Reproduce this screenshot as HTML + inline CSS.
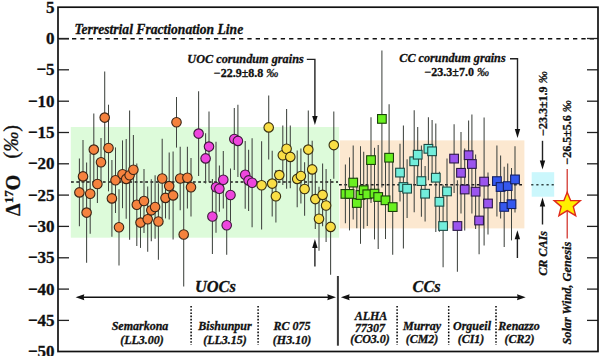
<!DOCTYPE html>
<html><head><meta charset="utf-8"><style>
html,body{margin:0;padding:0;background:#fff;width:600px;height:356px;overflow:hidden}
svg{display:block}
text{font-family:"Liberation Serif",serif;stroke:#111;stroke-width:0.3px}
</style></head><body>
<svg width="600" height="356" viewBox="0 0 600 356">
<!-- background regions -->
<rect x="70.8" y="127" width="268.3" height="110.7" fill="#DDFBDA"/>
<rect x="339.8" y="140.4" width="184.6" height="88" fill="#FCE8D0"/>
<rect x="531.7" y="172.2" width="22.5" height="24.5" fill="#CBF7FC"/>
<!-- mean lines -->
<g stroke="#1a1a1a" stroke-width="1.5" stroke-dasharray="2.8 2.5">
<line x1="71" y1="182" x2="338" y2="182"/>
<line x1="339" y1="184.7" x2="524.5" y2="184.7"/>
</g>
<!-- error bars -->
<g stroke="#404540" stroke-width="1.05">
<line x1="79.4" y1="158.6" x2="79.4" y2="226.2"/><line x1="83.0" y1="140.0" x2="83.0" y2="212.8"/><line x1="86.6" y1="162.4" x2="86.6" y2="262.8"/><line x1="90.2" y1="153.6" x2="90.2" y2="233.8"/><line x1="93.8" y1="113.6" x2="93.8" y2="185.6"/><line x1="97.4" y1="165.0" x2="97.4" y2="203.0"/><line x1="101" y1="138.0" x2="101" y2="186.6"/><line x1="104.7" y1="71.6" x2="104.7" y2="163.6"/><line x1="108.5" y1="104.7" x2="108.5" y2="191.3"/><line x1="111.9" y1="160.0" x2="111.9" y2="236.8"/><line x1="115.5" y1="147.4" x2="115.5" y2="213.0"/><line x1="119" y1="189.2" x2="119" y2="265.4"/><line x1="122.5" y1="140.4" x2="122.5" y2="208.2"/><line x1="126.2" y1="139.0" x2="126.2" y2="218.8"/><line x1="129.6" y1="110.6" x2="129.6" y2="239.8"/><line x1="133.4" y1="135.0" x2="133.4" y2="204.4"/><line x1="136.8" y1="163.6" x2="136.8" y2="246.0"/><line x1="140.5" y1="197.3" x2="140.5" y2="247.9"/><line x1="144" y1="169.0" x2="144" y2="233.0"/><line x1="147.7" y1="186.6" x2="147.7" y2="251.8"/><line x1="151.3" y1="179.3" x2="151.3" y2="241.3"/><line x1="155.1" y1="175.3" x2="155.1" y2="238.7"/><line x1="158.4" y1="183.3" x2="158.4" y2="259.7"/><line x1="162.2" y1="138.7" x2="162.2" y2="218.3"/><line x1="165.5" y1="177.4" x2="165.5" y2="218.4"/><line x1="169.2" y1="152.6" x2="169.2" y2="219.6"/><line x1="173.1" y1="151.4" x2="173.1" y2="239.4"/><line x1="176.5" y1="97.0" x2="176.5" y2="147.6"/><line x1="180.2" y1="146.8" x2="180.2" y2="210.2"/><line x1="183.7" y1="182.6" x2="183.7" y2="286.4"/><line x1="187.4" y1="146.8" x2="187.4" y2="208.6"/><line x1="191" y1="158.0" x2="191" y2="216.6"/><line x1="198.6" y1="91.2" x2="198.6" y2="176.0"/><line x1="205.6" y1="133.3" x2="205.6" y2="183.5"/><line x1="209" y1="111.4" x2="209" y2="181.8"/><line x1="212.4" y1="179.0" x2="212.4" y2="254.0"/><line x1="216" y1="141.7" x2="216" y2="232.7"/><line x1="219.4" y1="165.6" x2="219.4" y2="211.8"/><line x1="223.3" y1="151.0" x2="223.3" y2="208.4"/><line x1="226.7" y1="195.7" x2="226.7" y2="254.7"/><line x1="230.5" y1="168.5" x2="230.5" y2="221.5"/><line x1="234.3" y1="108.0" x2="234.3" y2="170.0"/><line x1="237.9" y1="104.7" x2="237.9" y2="177.1"/><line x1="245.2" y1="140.9" x2="245.2" y2="208.7"/><line x1="248.6" y1="149.8" x2="248.6" y2="211.0"/><line x1="252.1" y1="138.3" x2="252.1" y2="227.3"/><line x1="261.6" y1="141.2" x2="261.6" y2="229.4"/><line x1="268.7" y1="95.4" x2="268.7" y2="159.4"/><line x1="272.2" y1="150.8" x2="272.2" y2="216.4"/><line x1="275.9" y1="170.0" x2="275.9" y2="222.6"/><line x1="279.3" y1="171.1" x2="279.3" y2="179.1"/><line x1="282.8" y1="125.5" x2="282.8" y2="184.9"/><line x1="286.6" y1="108.9" x2="286.6" y2="188.7"/><line x1="290.3" y1="125.5" x2="290.3" y2="188.3"/><line x1="297.2" y1="150.5" x2="297.2" y2="207.3"/><line x1="300.9" y1="148.4" x2="300.9" y2="203.6"/><line x1="304.6" y1="162.3" x2="304.6" y2="215.7"/><line x1="308.3" y1="110.6" x2="308.3" y2="188.6"/><line x1="312.2" y1="140.8" x2="312.2" y2="198.0"/><line x1="315.3" y1="169.1" x2="315.3" y2="229.1"/><line x1="319.0" y1="186.8" x2="319.0" y2="250.8"/><line x1="322.6" y1="163.6" x2="322.6" y2="226.2"/><line x1="326.1" y1="169.0" x2="326.1" y2="242.0"/><line x1="330.6" y1="179.1" x2="330.6" y2="274.7"/><line x1="333.8" y1="111.4" x2="333.8" y2="178.8"/><line x1="345.4" y1="164.6" x2="345.4" y2="223.2"/><line x1="349.5" y1="157.4" x2="349.5" y2="230.4"/><line x1="353.2" y1="145.6" x2="353.2" y2="219.6"/><line x1="356.8" y1="177.8" x2="356.8" y2="228.2"/><line x1="360.5" y1="146.2" x2="360.5" y2="243.8"/><line x1="363.7" y1="151.7" x2="363.7" y2="228.7"/><line x1="367.3" y1="162.6" x2="367.3" y2="226.0"/><line x1="371" y1="117.3" x2="371" y2="202.9"/><line x1="374.5" y1="147.8" x2="374.5" y2="239.4"/><line x1="378.2" y1="145.1" x2="378.2" y2="248.9"/><line x1="381.9" y1="50.4" x2="381.9" y2="187.4"/><line x1="385.5" y1="161.6" x2="385.5" y2="239.0"/><line x1="389.1" y1="104.2" x2="389.1" y2="211.2"/><line x1="392.7" y1="159.5" x2="392.7" y2="254.7"/><line x1="400" y1="143.7" x2="400" y2="201.5"/><line x1="403.4" y1="125.5" x2="403.4" y2="248.5"/><line x1="407.1" y1="159.3" x2="407.1" y2="218.1"/><line x1="414.2" y1="110.3" x2="414.2" y2="212.3"/><line x1="417.7" y1="126.9" x2="417.7" y2="182.5"/><line x1="421.4" y1="145.5" x2="421.4" y2="216.7"/><line x1="425.1" y1="165.9" x2="425.1" y2="221.5"/><line x1="428.4" y1="117.3" x2="428.4" y2="180.3"/><line x1="432.1" y1="120.1" x2="432.1" y2="182.5"/><line x1="435.8" y1="123.4" x2="435.8" y2="232.0"/><line x1="439.4" y1="171.8" x2="439.4" y2="231.8"/><line x1="443.1" y1="184.7" x2="443.1" y2="267.3"/><line x1="447" y1="158.4" x2="447" y2="224.4"/><line x1="454.1" y1="124.3" x2="454.1" y2="192.9"/><line x1="457.4" y1="180.2" x2="457.4" y2="271.8"/><line x1="461" y1="132.1" x2="461" y2="213.5"/><line x1="464.7" y1="148.5" x2="464.7" y2="230.5"/><line x1="468.6" y1="120.5" x2="468.6" y2="189.9"/><line x1="471.9" y1="114.6" x2="471.9" y2="213.4"/><line x1="475.6" y1="154.4" x2="475.6" y2="229.0"/><line x1="479.1" y1="186.8" x2="479.1" y2="254.2"/><line x1="484.1" y1="117.6" x2="484.1" y2="245.6"/><line x1="488" y1="172.5" x2="488" y2="234.5"/><line x1="496.9" y1="145.6" x2="496.9" y2="216.6"/><line x1="500.6" y1="155.6" x2="500.6" y2="218.4"/><line x1="504.2" y1="166.7" x2="504.2" y2="247.1"/><line x1="507.7" y1="163.6" x2="507.7" y2="208.6"/><line x1="511.5" y1="168.0" x2="511.5" y2="240.4"/><line x1="515" y1="146.3" x2="515" y2="212.5"/>
</g>
<g stroke-width="1.1">
<circle cx="79.4" cy="192.4" r="4.75" fill="#F5823E" stroke="#3a2415"/><circle cx="83.0" cy="176.4" r="4.75" fill="#F5823E" stroke="#3a2415"/><circle cx="86.6" cy="212.6" r="4.75" fill="#F5823E" stroke="#3a2415"/><circle cx="90.2" cy="193.7" r="4.75" fill="#F5823E" stroke="#3a2415"/><circle cx="93.8" cy="149.6" r="4.75" fill="#F5823E" stroke="#3a2415"/><circle cx="97.4" cy="184" r="4.75" fill="#F5823E" stroke="#3a2415"/><circle cx="101" cy="162.3" r="4.75" fill="#F5823E" stroke="#3a2415"/><circle cx="104.7" cy="117.6" r="4.75" fill="#F5823E" stroke="#3a2415"/><circle cx="108.5" cy="148" r="4.75" fill="#F5823E" stroke="#3a2415"/><circle cx="111.9" cy="198.4" r="4.75" fill="#F5823E" stroke="#3a2415"/><circle cx="115.5" cy="180.2" r="4.75" fill="#F5823E" stroke="#3a2415"/><circle cx="119" cy="227.3" r="4.75" fill="#F5823E" stroke="#3a2415"/><circle cx="122.5" cy="174.3" r="4.75" fill="#F5823E" stroke="#3a2415"/><circle cx="126.2" cy="178.9" r="4.75" fill="#F5823E" stroke="#3a2415"/><circle cx="129.6" cy="175.2" r="4.75" fill="#F5823E" stroke="#3a2415"/><circle cx="133.4" cy="169.7" r="4.75" fill="#F5823E" stroke="#3a2415"/><circle cx="136.8" cy="204.8" r="4.75" fill="#F5823E" stroke="#3a2415"/><circle cx="140.5" cy="222.6" r="4.75" fill="#F5823E" stroke="#3a2415"/><circle cx="144" cy="201" r="4.75" fill="#F5823E" stroke="#3a2415"/><circle cx="147.7" cy="219.2" r="4.75" fill="#F5823E" stroke="#3a2415"/><circle cx="151.3" cy="210.3" r="4.75" fill="#F5823E" stroke="#3a2415"/><circle cx="155.1" cy="207" r="4.75" fill="#F5823E" stroke="#3a2415"/><circle cx="158.4" cy="221.5" r="4.75" fill="#F5823E" stroke="#3a2415"/><circle cx="162.2" cy="178.5" r="4.75" fill="#F5823E" stroke="#3a2415"/><circle cx="165.5" cy="197.9" r="4.75" fill="#F5823E" stroke="#3a2415"/><circle cx="169.2" cy="186.1" r="4.75" fill="#F5823E" stroke="#3a2415"/><circle cx="173.1" cy="195.4" r="4.75" fill="#F5823E" stroke="#3a2415"/><circle cx="176.5" cy="122.3" r="4.75" fill="#F5823E" stroke="#3a2415"/><circle cx="180.2" cy="178.5" r="4.75" fill="#F5823E" stroke="#3a2415"/><circle cx="183.7" cy="234.5" r="4.75" fill="#F5823E" stroke="#3a2415"/><circle cx="187.4" cy="177.7" r="4.75" fill="#F5823E" stroke="#3a2415"/><circle cx="191" cy="187.3" r="4.75" fill="#F5823E" stroke="#3a2415"/><circle cx="198.6" cy="133.6" r="4.75" fill="#EE45DD" stroke="#3a1a38"/><circle cx="205.6" cy="158.4" r="4.75" fill="#EE45DD" stroke="#3a1a38"/><circle cx="209" cy="146.6" r="4.75" fill="#EE45DD" stroke="#3a1a38"/><circle cx="212.4" cy="216.5" r="4.75" fill="#EE45DD" stroke="#3a1a38"/><circle cx="216" cy="187.2" r="4.75" fill="#EE45DD" stroke="#3a1a38"/><circle cx="219.4" cy="188.7" r="4.75" fill="#EE45DD" stroke="#3a1a38"/><circle cx="223.3" cy="179.7" r="4.75" fill="#EE45DD" stroke="#3a1a38"/><circle cx="226.7" cy="225.2" r="4.75" fill="#EE45DD" stroke="#3a1a38"/><circle cx="230.5" cy="195" r="4.75" fill="#EE45DD" stroke="#3a1a38"/><circle cx="234.3" cy="139" r="4.75" fill="#EE45DD" stroke="#3a1a38"/><circle cx="237.9" cy="140.9" r="4.75" fill="#EE45DD" stroke="#3a1a38"/><circle cx="245.2" cy="174.8" r="4.75" fill="#EE45DD" stroke="#3a1a38"/><circle cx="248.6" cy="180.4" r="4.75" fill="#EE45DD" stroke="#3a1a38"/><circle cx="252.1" cy="182.8" r="4.75" fill="#EE45DD" stroke="#3a1a38"/><circle cx="261.6" cy="185.3" r="4.75" fill="#F9DE45" stroke="#3a3010"/><circle cx="268.7" cy="127.4" r="4.75" fill="#F9DE45" stroke="#3a3010"/><circle cx="272.2" cy="183.6" r="4.75" fill="#F9DE45" stroke="#3a3010"/><circle cx="275.9" cy="196.3" r="4.75" fill="#F9DE45" stroke="#3a3010"/><circle cx="279.3" cy="175.1" r="4.75" fill="#F9DE45" stroke="#3a3010"/><circle cx="282.8" cy="155.2" r="4.75" fill="#F9DE45" stroke="#3a3010"/><circle cx="286.6" cy="148.8" r="4.75" fill="#F9DE45" stroke="#3a3010"/><circle cx="290.3" cy="156.9" r="4.75" fill="#F9DE45" stroke="#3a3010"/><circle cx="297.2" cy="178.9" r="4.75" fill="#F9DE45" stroke="#3a3010"/><circle cx="300.9" cy="176" r="4.75" fill="#F9DE45" stroke="#3a3010"/><circle cx="304.6" cy="189" r="4.75" fill="#F9DE45" stroke="#3a3010"/><circle cx="308.3" cy="149.6" r="4.75" fill="#F9DE45" stroke="#3a3010"/><circle cx="312.2" cy="169.4" r="4.75" fill="#F9DE45" stroke="#3a3010"/><circle cx="315.3" cy="199.1" r="4.75" fill="#F9DE45" stroke="#3a3010"/><circle cx="319.0" cy="218.8" r="4.75" fill="#F9DE45" stroke="#3a3010"/><circle cx="322.6" cy="194.9" r="4.75" fill="#F9DE45" stroke="#3a3010"/><circle cx="326.1" cy="205.5" r="4.75" fill="#F9DE45" stroke="#3a3010"/><circle cx="330.6" cy="226.9" r="4.75" fill="#F9DE45" stroke="#3a3010"/><circle cx="333.8" cy="145.1" r="4.75" fill="#F9DE45" stroke="#3a3010"/><rect x="341.05" y="189.55" width="8.7" height="8.7" fill="#6AF020" stroke="#1a400a"/><rect x="345.15" y="189.55" width="8.7" height="8.7" fill="#6AF020" stroke="#1a400a"/><rect x="348.85" y="178.25" width="8.7" height="8.7" fill="#6AF020" stroke="#1a400a"/><rect x="352.45" y="198.65" width="8.7" height="8.7" fill="#6AF020" stroke="#1a400a"/><rect x="356.15" y="190.65" width="8.7" height="8.7" fill="#6AF020" stroke="#1a400a"/><rect x="359.35" y="185.85" width="8.7" height="8.7" fill="#6AF020" stroke="#1a400a"/><rect x="362.95" y="189.95" width="8.7" height="8.7" fill="#6AF020" stroke="#1a400a"/><rect x="366.65" y="155.75" width="8.7" height="8.7" fill="#6AF020" stroke="#1a400a"/><rect x="370.15" y="189.25" width="8.7" height="8.7" fill="#6AF020" stroke="#1a400a"/><rect x="373.85" y="192.65" width="8.7" height="8.7" fill="#6AF020" stroke="#1a400a"/><rect x="377.55" y="114.55" width="8.7" height="8.7" fill="#6AF020" stroke="#1a400a"/><rect x="381.15" y="195.95" width="8.7" height="8.7" fill="#6AF020" stroke="#1a400a"/><rect x="384.75" y="153.35" width="8.7" height="8.7" fill="#6AF020" stroke="#1a400a"/><rect x="388.35" y="202.75" width="8.7" height="8.7" fill="#6AF020" stroke="#1a400a"/><rect x="395.65" y="168.25" width="8.7" height="8.7" fill="#72EEDC" stroke="#1d4a44"/><rect x="399.05" y="182.65" width="8.7" height="8.7" fill="#72EEDC" stroke="#1d4a44"/><rect x="402.75" y="184.35" width="8.7" height="8.7" fill="#72EEDC" stroke="#1d4a44"/><rect x="409.85" y="156.95" width="8.7" height="8.7" fill="#72EEDC" stroke="#1d4a44"/><rect x="413.35" y="150.35" width="8.7" height="8.7" fill="#72EEDC" stroke="#1d4a44"/><rect x="417.05" y="176.75" width="8.7" height="8.7" fill="#72EEDC" stroke="#1d4a44"/><rect x="420.75" y="189.35" width="8.7" height="8.7" fill="#72EEDC" stroke="#1d4a44"/><rect x="424.05" y="144.45" width="8.7" height="8.7" fill="#72EEDC" stroke="#1d4a44"/><rect x="427.75" y="146.95" width="8.7" height="8.7" fill="#72EEDC" stroke="#1d4a44"/><rect x="431.45" y="173.35" width="8.7" height="8.7" fill="#72EEDC" stroke="#1d4a44"/><rect x="435.05" y="197.45" width="8.7" height="8.7" fill="#72EEDC" stroke="#1d4a44"/><rect x="438.75" y="221.65" width="8.7" height="8.7" fill="#72EEDC" stroke="#1d4a44"/><rect x="442.65" y="187.05" width="8.7" height="8.7" fill="#72EEDC" stroke="#1d4a44"/><rect x="449.75" y="154.25" width="8.7" height="8.7" fill="#9B55EE" stroke="#2c1a48"/><rect x="453.05" y="221.65" width="8.7" height="8.7" fill="#9B55EE" stroke="#2c1a48"/><rect x="456.65" y="168.45" width="8.7" height="8.7" fill="#9B55EE" stroke="#2c1a48"/><rect x="460.35" y="185.15" width="8.7" height="8.7" fill="#9B55EE" stroke="#2c1a48"/><rect x="464.25" y="150.85" width="8.7" height="8.7" fill="#9B55EE" stroke="#2c1a48"/><rect x="467.55" y="159.65" width="8.7" height="8.7" fill="#9B55EE" stroke="#2c1a48"/><rect x="471.25" y="187.35" width="8.7" height="8.7" fill="#9B55EE" stroke="#2c1a48"/><rect x="474.75" y="216.15" width="8.7" height="8.7" fill="#9B55EE" stroke="#2c1a48"/><rect x="479.75" y="177.25" width="8.7" height="8.7" fill="#9B55EE" stroke="#2c1a48"/><rect x="483.65" y="199.15" width="8.7" height="8.7" fill="#9B55EE" stroke="#2c1a48"/><rect x="492.55" y="176.75" width="8.7" height="8.7" fill="#3558EE" stroke="#142060"/><rect x="496.25" y="182.65" width="8.7" height="8.7" fill="#3558EE" stroke="#142060"/><rect x="499.85" y="202.55" width="8.7" height="8.7" fill="#3558EE" stroke="#142060"/><rect x="503.35" y="181.75" width="8.7" height="8.7" fill="#3558EE" stroke="#142060"/><rect x="507.15" y="199.85" width="8.7" height="8.7" fill="#3558EE" stroke="#142060"/><rect x="510.65" y="175.05" width="8.7" height="8.7" fill="#3558EE" stroke="#142060"/>
</g>
<line x1="531.2" y1="184.8" x2="555" y2="184.8" stroke="#334444" stroke-width="1.4" stroke-dasharray="2.2 2.9"/>
<!-- zero line -->
<line x1="59" y1="38.8" x2="69" y2="38.8" stroke="#111" stroke-width="1.4"/>
<line x1="72" y1="38.8" x2="597" y2="38.8" stroke="#111" stroke-width="1.5" stroke-dasharray="4.3 4.05"/>
<!-- ticks -->
<g stroke="#222" stroke-width="1.3"><line x1="58" y1="38.5" x2="69" y2="38.5"/><line x1="587" y1="38.5" x2="598" y2="38.5"/><line x1="58" y1="69.8" x2="69" y2="69.8"/><line x1="587" y1="69.8" x2="598" y2="69.8"/><line x1="58" y1="101.2" x2="69" y2="101.2"/><line x1="587" y1="101.2" x2="598" y2="101.2"/><line x1="58" y1="132.5" x2="69" y2="132.5"/><line x1="587" y1="132.5" x2="598" y2="132.5"/><line x1="58" y1="163.8" x2="69" y2="163.8"/><line x1="587" y1="163.8" x2="598" y2="163.8"/><line x1="58" y1="195.1" x2="69" y2="195.1"/><line x1="587" y1="195.1" x2="598" y2="195.1"/><line x1="58" y1="226.4" x2="69" y2="226.4"/><line x1="587" y1="226.4" x2="598" y2="226.4"/><line x1="58" y1="257.8" x2="69" y2="257.8"/><line x1="587" y1="257.8" x2="598" y2="257.8"/><line x1="58" y1="289.1" x2="69" y2="289.1"/><line x1="587" y1="289.1" x2="598" y2="289.1"/><line x1="58" y1="320.4" x2="69" y2="320.4"/><line x1="587" y1="320.4" x2="598" y2="320.4"/></g>
<!-- frame -->
<rect x="58" y="7.2" width="540" height="344.3" fill="none" stroke="#111" stroke-width="1.7"/>
<!-- tick labels -->
<g font-family="Liberation Serif" font-weight="bold" font-size="17" fill="#111"><text x="54.6" y="12.7" text-anchor="end">5</text><text x="54.6" y="44.0" text-anchor="end">0</text><text x="54.6" y="75.3" text-anchor="end">−5</text><text x="54.6" y="106.7" text-anchor="end">−10</text><text x="54.6" y="138.0" text-anchor="end">−15</text><text x="54.6" y="169.3" text-anchor="end">−20</text><text x="54.6" y="200.6" text-anchor="end">−25</text><text x="54.6" y="231.9" text-anchor="end">−30</text><text x="54.6" y="263.3" text-anchor="end">−35</text><text x="54.6" y="294.6" text-anchor="end">−40</text><text x="54.6" y="325.9" text-anchor="end">−45</text><text x="54.6" y="357.2" text-anchor="end">−50</text></g>
<!-- y label -->
<text transform="translate(19.6,216) rotate(-90)" font-family="Liberation Serif" font-weight="bold" font-size="20" fill="#111">&#916;<tspan font-size="13" dy="-6.8" dx="0.3">17</tspan><tspan dy="6.8">O</tspan></text>
<text transform="translate(18.4,216) rotate(-90)" x="57.5" font-family="Liberation Serif" font-size="20" fill="#111">(<tspan font-style="italic">&#8240;</tspan>)</text>
<!-- annotations -->
<g font-family="Liberation Serif" font-weight="bold" font-style="italic" fill="#111">
<text x="74.5" y="33.8" font-size="13.6">Terrestrial Fractionation Line</text>
<text x="187.3" y="62.5" font-size="12.25">UOC corundum grains</text>
<text x="399.3" y="62.4" font-size="12.2">CC corundum grains</text>
</g>
<g font-family="Liberation Serif" font-weight="bold" fill="#111" font-size="12">
<text x="213.8" y="77">&#8722;22.9&#177;8.8 <tspan font-weight="normal" font-style="italic">&#8240;</tspan></text>
<text x="424.5" y="76">&#8722;23.3&#177;7.0 <tspan font-weight="normal" font-style="italic">&#8240;</tspan></text>
</g>
<g stroke="#222" stroke-width="1.4" fill="none">
<polyline points="306.8,59.4 314.9,59.4 314.9,118"/>
<polyline points="510,58.8 517.5,58.8 517.5,131"/>
<line x1="314.9" y1="247" x2="314.9" y2="266.5"/>
<line x1="517.4" y1="237" x2="517.4" y2="258"/>
<line x1="542.5" y1="140.8" x2="542.5" y2="162"/>
<line x1="542.5" y1="205" x2="542.5" y2="224.5"/>
</g>
<g fill="#111">
<polygon points="312.2,116 317.6,116 314.9,125"/>
<polygon points="514.8,129 520.2,129 517.5,138"/>
<polygon points="312.2,248 317.6,248 314.9,239"/>
<polygon points="514.7,239.2 520.1,239.2 517.4,230.2"/>
<polygon points="539.8,160.5 545.2,160.5 542.5,169.5"/>
<polygon points="539.8,206.6 545.2,206.6 542.5,197.6"/>
</g>
<!-- red line + star -->
<line x1="567.2" y1="169" x2="567.2" y2="238.6" stroke="#D02820" stroke-width="1.2"/>
<polygon points="567.2,192.3 570.6,200.5 580.3,200.6 573.3,206.6 575.7,215.7 567.2,210.6 558.9,215.7 561.2,206.6 554.2,200.6 563.9,200.5" fill="#FFEF00" stroke="#E02A1A" stroke-width="1.4" stroke-linejoin="miter"/>
<!-- bottom arrows -->
<g stroke="#111" stroke-width="1.5">
<line x1="80" y1="297.3" x2="332" y2="297.3"/>
<line x1="345" y1="297.3" x2="521" y2="297.3"/>
</g>
<g fill="#111">
<polygon points="75.6,297.3 84.3,294.3 83.6,297.3 84.3,300.3"/>
<polygon points="336,297.3 327.3,294.3 328,297.3 327.3,300.3"/>
<polygon points="340.9,297.3 349.6,294.3 348.9,297.3 349.6,300.3"/>
<polygon points="525.7,297.3 517,294.3 517.7,297.3 517,300.3"/>
</g>
<line x1="337.9" y1="276" x2="337.9" y2="345.7" stroke="#3a3a3a" stroke-width="2"/>
<g stroke="#000" stroke-width="1.5" stroke-dasharray="1.6 1.6">
<line x1="191.1" y1="306" x2="191.1" y2="345"/>
<line x1="258.1" y1="306" x2="258.1" y2="345"/>
<line x1="397.1" y1="306" x2="397.1" y2="345"/>
<line x1="448.7" y1="306" x2="448.7" y2="345"/>
<line x1="496" y1="306" x2="496" y2="345"/>
</g>
<g font-family="Liberation Serif" font-weight="bold" font-style="italic" fill="#111">
<text x="194.9" y="292.3" font-size="16.4">UOCs</text>
<text x="412.6" y="292.3" font-size="16.2">CCs</text>
</g>
<g font-family="Liberation Serif" font-weight="bold" font-style="italic" fill="#111" font-size="12" text-anchor="middle">
<text x="140" y="329.5">Semarkona</text><text x="142" y="343.5">(LL3.00)</text>
<text x="225" y="329.5">Bishunpur</text><text x="225" y="343.5">(LL3.15)</text>
<text x="292" y="329.5">RC 075</text><text x="292" y="343.5">(H3.10)</text>
<text x="371" y="319.5">ALHA</text><text x="370" y="331.6">77307</text><text x="370" y="342.8">(CO3.0)</text>
<text x="422" y="329.5">Murray</text><text x="422" y="343">(CM2)</text>
<text x="472" y="329.5">Orgueil</text><text x="471" y="343">(CI1)</text>
<text x="519" y="329.5">Renazzo</text><text x="519.5" y="343">(CR2)</text>
</g>
<!-- right rotated labels -->
<g font-family="Liberation Serif" font-weight="bold" fill="#111" font-size="12">
<text transform="translate(546.6,135.8) rotate(-90)">&#8722;23.3&#177;1.9 <tspan font-weight="normal" font-style="italic">&#8240;</tspan></text>
<text transform="translate(571.3,164.6) rotate(-90)">&#8722;26.5&#177;5.6 <tspan font-weight="normal" font-style="italic">&#8240;</tspan></text>
<text transform="translate(547.2,275.8) rotate(-90)" font-style="italic" font-size="12.1">CR CAIs</text>
<text transform="translate(570.8,344.6) rotate(-90)" font-style="italic" font-size="12.3">Solar Wind, Genesis</text>
</g>
</svg>
</body></html>
